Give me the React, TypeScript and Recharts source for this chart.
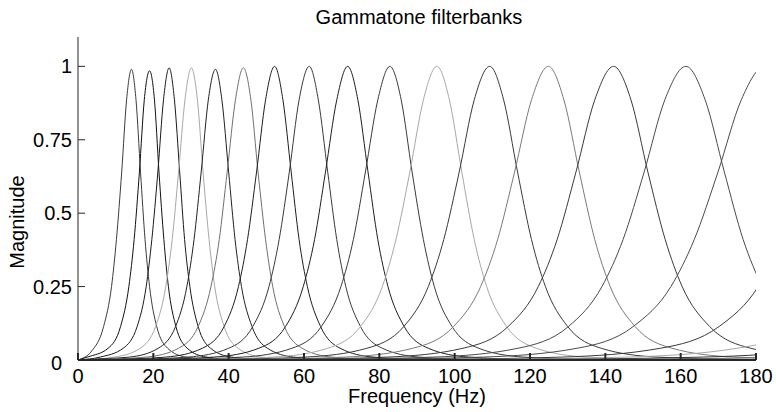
import { Line, LineChart, XAxis, YAxis } from 'recharts';

const FONT = '"Liberation Sans", Arial, Helvetica, sans-serif';

// Frequency samples (Hz) and magnitudes.
const FREQ_1 = [0, 3.6, 6.8, 8.9, 10.2, 11.6, 12.9, 14.2, 15.4, 16.6, 17.8, 19.0, 20.9, 23.8, 28.6, 35.8, 180];
const MAG_1 = [0, 0.03, 0.114, 0.25, 0.41, 0.64, 0.886, 0.99, 0.886, 0.64, 0.41, 0.25, 0.114, 0.04, 0.01, 0.002, 0];

const FREQ_2 = [0, 2.5, 8.0, 11.3, 13.5, 14.9, 16.3, 17.6, 19.0, 20.3, 21.5, 22.8, 24.0, 26.0, 29.0, 34.0, 41.5, 180];
const MAG_2 = [0, 0.01, 0.04, 0.114, 0.25, 0.41, 0.64, 0.886, 0.985, 0.886, 0.64, 0.41, 0.25, 0.114, 0.04, 0.01, 0.002, 0];

const FREQ_3 = [0, 5.9, 12.0, 15.7, 18.1, 19.6, 21.2, 22.7, 24.2, 25.6, 27.0, 28.3, 29.7, 31.9, 35.2, 40.7, 49.0, 180];
const MAG_3 = [0, 0.01, 0.04, 0.114, 0.25, 0.41, 0.64, 0.886, 0.995, 0.886, 0.64, 0.41, 0.25, 0.114, 0.04, 0.01, 0.002, 0];

const FREQ_4 = [0, 9.7, 16.5, 20.6, 23.3, 25.0, 26.7, 28.4, 30.1, 31.7, 33.2, 34.8, 36.3, 38.8, 42.5, 48.7, 58.0, 180];
const MAG_4 = [0, 0.01, 0.04, 0.114, 0.25, 0.41, 0.64, 0.886, 0.995, 0.886, 0.64, 0.41, 0.25, 0.114, 0.04, 0.01, 0.002, 0];

const FREQ_5 = [0, 2.3, 13.7, 21.3, 25.9, 28.9, 30.8, 32.7, 34.6, 36.5, 38.2, 40.0, 41.7, 43.4, 46.2, 50.3, 57.2, 67.6, 180];
const MAG_5 = [0, 0.002, 0.01, 0.04, 0.114, 0.25, 0.41, 0.64, 0.886, 0.99, 0.886, 0.64, 0.41, 0.25, 0.114, 0.04, 0.01, 0.002, 0];

const FREQ_6 = [0, 5.2, 18.1, 26.7, 31.9, 35.3, 37.5, 39.6, 41.8, 43.9, 45.9, 47.8, 49.8, 51.7, 54.8, 59.5, 67.3, 79.0, 180];
const MAG_6 = [0, 0.002, 0.01, 0.04, 0.114, 0.25, 0.41, 0.64, 0.886, 0.995, 0.886, 0.64, 0.41, 0.25, 0.114, 0.04, 0.01, 0.002, 0];

const FREQ_7 = [0, 9.0, 23.4, 33.0, 38.8, 42.6, 45.0, 47.4, 49.8, 52.2, 54.4, 56.6, 58.7, 60.9, 64.4, 69.6, 78.3, 91.4, 180];
const MAG_7 = [0, 0.002, 0.01, 0.04, 0.114, 0.25, 0.41, 0.64, 0.886, 1, 0.886, 0.64, 0.41, 0.25, 0.114, 0.04, 0.01, 0.002, 0];

const FREQ_8 = [0, 13.2, 29.3, 40.0, 46.4, 50.7, 53.4, 56.1, 58.7, 61.4, 63.8, 66.3, 68.7, 71.1, 75.0, 80.8, 90.5, 105.1, 180];
const MAG_8 = [0, 0.002, 0.01, 0.04, 0.114, 0.25, 0.41, 0.64, 0.886, 1, 0.886, 0.64, 0.41, 0.25, 0.114, 0.04, 0.01, 0.002, 0];

const FREQ_9 = [0, 18.5, 36.2, 48.0, 55.1, 59.8, 62.8, 65.7, 68.7, 71.6, 74.3, 77.0, 79.6, 82.3, 86.6, 93.0, 103.7, 119.8, 180];
const MAG_9 = [0, 0.002, 0.01, 0.04, 0.114, 0.25, 0.41, 0.64, 0.886, 1, 0.886, 0.64, 0.41, 0.25, 0.114, 0.04, 0.01, 0.002, 0];

const FREQ_10 = [0, 24.3, 43.8, 56.8, 64.6, 69.8, 73.1, 76.3, 79.6, 82.8, 85.8, 88.7, 91.7, 94.6, 99.3, 106.4, 118.2, 135.9, 180];
const MAG_10 = [0, 0.002, 0.01, 0.04, 0.114, 0.25, 0.41, 0.64, 0.886, 1, 0.886, 0.64, 0.41, 0.25, 0.114, 0.04, 0.01, 0.002, 0];

const FREQ_11 = [0, 30.1, 51.8, 66.3, 75.0, 80.8, 84.4, 88.1, 91.7, 95.3, 98.6, 101.9, 105.2, 108.5, 113.8, 121.7, 134.9, 154.7, 180];
const MAG_11 = [0, 0.002, 0.01, 0.04, 0.114, 0.25, 0.41, 0.64, 0.886, 1, 0.886, 0.64, 0.41, 0.25, 0.114, 0.04, 0.01, 0.002, 0];

const FREQ_12 = [0, 35.9, 60.4, 76.7, 86.5, 93.0, 97.1, 101.2, 105.2, 109.3, 113.0, 116.7, 120.4, 124.1, 130.0, 138.9, 153.7, 175.9, 180];
const MAG_12 = [0, 0.002, 0.01, 0.04, 0.114, 0.25, 0.41, 0.64, 0.886, 1, 0.886, 0.64, 0.41, 0.25, 0.114, 0.04, 0.01, 0.002, 0.0015];

const FREQ_13 = [0, 43.9, 70.9, 88.9, 99.7, 106.9, 111.4, 115.9, 120.4, 124.9, 129.0, 133.1, 137.2, 141.3, 147.9, 157.7, 174.1, 198.7];
const MAG_13 = [0, 0.002, 0.01, 0.04, 0.114, 0.25, 0.41, 0.64, 0.886, 1, 0.886, 0.64, 0.41, 0.25, 0.114, 0.04, 0.01, 0.002];

const FREQ_14 = [0, 52.2, 82.2, 102.2, 114.2, 122.2, 127.2, 132.2, 137.2, 142.2, 146.8, 151.3, 155.9, 160.4, 167.7, 178.6, 196.8, 224.1];
const MAG_14 = [0, 0.002, 0.01, 0.04, 0.114, 0.25, 0.41, 0.64, 0.886, 1, 0.886, 0.64, 0.41, 0.25, 0.114, 0.04, 0.01, 0.002];

const FREQ_15 = [0, 61.1, 94.5, 116.8, 130.2, 139.1, 144.7, 150.3, 155.8, 161.4, 166.5, 171.6, 176.6, 181.7, 189.8, 202.0, 222.3];
const MAG_15 = [0, 0.002, 0.01, 0.04, 0.114, 0.25, 0.41, 0.64, 0.886, 1, 0.886, 0.64, 0.41, 0.25, 0.114, 0.04, 0.01];

const FREQ_16 = [0, 70.3, 107.6, 132.5, 147.4, 157.4, 163.6, 169.9, 176.1, 182.3, 188.0, 193.6, 199.3, 204.9];
const MAG_16 = [0, 0.002, 0.01, 0.04, 0.114, 0.25, 0.41, 0.64, 0.886, 1, 0.886, 0.64, 0.41, 0.25];

// filters centred above 180 Hz: only their low-side tails show
const FREQ_17 = [0, 89.6, 128.6, 154.6, 170.2, 180.6, 187.1, 193.6, 200.1, 206.6];
const MAG_17 = [0, 0.002, 0.01, 0.04, 0.114, 0.25, 0.41, 0.64, 0.886, 1];

const FREQ_18 = [0, 102.5, 146.0, 175.0, 192.4, 204.0, 211.3];
const MAG_18 = [0, 0.002, 0.01, 0.04, 0.114, 0.25, 0.41];

const FREQ_19 = [0, 118.0, 166.0, 198.0, 217.2, 230.0];
const MAG_19 = [0, 0.002, 0.01, 0.04, 0.114, 0.25];

const FREQ_20 = [0, 136.5, 189.0, 224.0];
const MAG_20 = [0, 0.002, 0.01, 0.04];

const X_TICKS = [0, 20, 40, 60, 80, 100, 120, 140, 160, 180];
const Y_TICKS = [0, 0.25, 0.5, 0.75, 1];

const COLORS = [
  '#3c3c3c', '#111111', '#1a1a1a', '#a8a8a8', '#222222',
  '#707070', '#1e1e1e', '#3a3a3a', '#1e1e1e', '#3a3a3a',
  '#a8a8a8', '#3a3a3a', '#7a7a7a', '#3a3a3a', '#4a4a4a',
  '#4a4a4a', '#3a3a3a', '#a8a8a8', '#333333', '#666666',
];

const FREQS = [
  FREQ_1, FREQ_2, FREQ_3, FREQ_4, FREQ_5, FREQ_6, FREQ_7, FREQ_8, FREQ_9, FREQ_10,
  FREQ_11, FREQ_12, FREQ_13, FREQ_14, FREQ_15, FREQ_16, FREQ_17, FREQ_18, FREQ_19, FREQ_20,
];
const MAGS = [
  MAG_1, MAG_2, MAG_3, MAG_4, MAG_5, MAG_6, MAG_7, MAG_8, MAG_9, MAG_10,
  MAG_11, MAG_12, MAG_13, MAG_14, MAG_15, MAG_16, MAG_17, MAG_18, MAG_19, MAG_20,
];

const SERIES = FREQS.map((fs, i) => fs.map((f, j) => ({ f, m: MAGS[i][j] })));

const AXIS_COLOR = '#262626';

function YTick(props: any) {
  const { y, payload } = props;
  const zero = payload.value === 0;
  return (
    <text
      x={zero ? 62 : 72}
      y={y + (zero ? 3 : 0)}
      dy="0.355em"
      textAnchor="end"
      fontSize={20}
      fontFamily={FONT}
      fill="#000"
    >
      {String(payload.value)}
    </text>
  );
}

export default function App() {
  return (
    <div
      style={{
        position: 'absolute',
        left: 0,
        top: 0,
        width: 776,
        height: 412,
        background: '#fff',
        fontFamily: FONT,
      }}
    >
      <LineChart width={776} height={412} margin={{ top: 37, right: 20, bottom: 0, left: 0 }}>
        <XAxis
          xAxisId="bottom"
          type="number"
          dataKey="f"
          domain={[0, 180]}
          allowDataOverflow
          ticks={X_TICKS}
          interval={0}
          height={52}
          tickSize={-7}
          tickMargin={16}
          stroke={AXIS_COLOR}
          strokeWidth={2}
          tick={{ fontSize: 20, fill: '#000', fontFamily: FONT }}
          label={{
            value: 'Frequency (Hz)',
            position: 'insideBottom',
            offset: 9,
            fontSize: 20,
            fill: '#000',
            fontFamily: FONT,
          }}
        />
        <XAxis
          xAxisId="top"
          orientation="top"
          type="number"
          dataKey="f"
          domain={[0, 180]}
          allowDataOverflow
          ticks={X_TICKS}
          interval={0}
          height={0}
          tickSize={-7}
          tick={false}
          stroke={AXIS_COLOR}
        />
        <YAxis
          yAxisId="left"
          type="number"
          domain={[0, 1.1]}
          allowDataOverflow
          ticks={Y_TICKS}
          interval={0}
          width={78}
          tickSize={-7}
          tickMargin={13}
          stroke={AXIS_COLOR}
          tick={<YTick />}
        />
        <YAxis
          yAxisId="right"
          orientation="right"
          type="number"
          domain={[0, 1.1]}
          allowDataOverflow
          ticks={Y_TICKS}
          interval={0}
          width={0}
          tickSize={-7}
          tick={false}
          stroke={AXIS_COLOR}
        />
        {SERIES.map((d, i) => (
          <Line
            key={i}
            data={d}
            dataKey="m"
            xAxisId="bottom"
            yAxisId="left"
            type="monotone"
            stroke={COLORS[i]}
            strokeWidth={1}
            dot={false}
            activeDot={false}
            isAnimationActive={false}
          />
        ))}
      </LineChart>
      <svg
        width={776}
        height={412}
        style={{ position: 'absolute', left: 0, top: 0, pointerEvents: 'none' }}
      >
        <text x={419} y={24} textAnchor="middle" fontSize={20} fontFamily={FONT} fill="#000">
          Gammatone filterbanks
        </text>
        <text
          x={24}
          y={222}
          transform="rotate(-90 24 222)"
          textAnchor="middle"
          fontSize={20}
          fontFamily={FONT}
          fill="#000"
        >
          Magnitude
        </text>
      </svg>
    </div>
  );
}
